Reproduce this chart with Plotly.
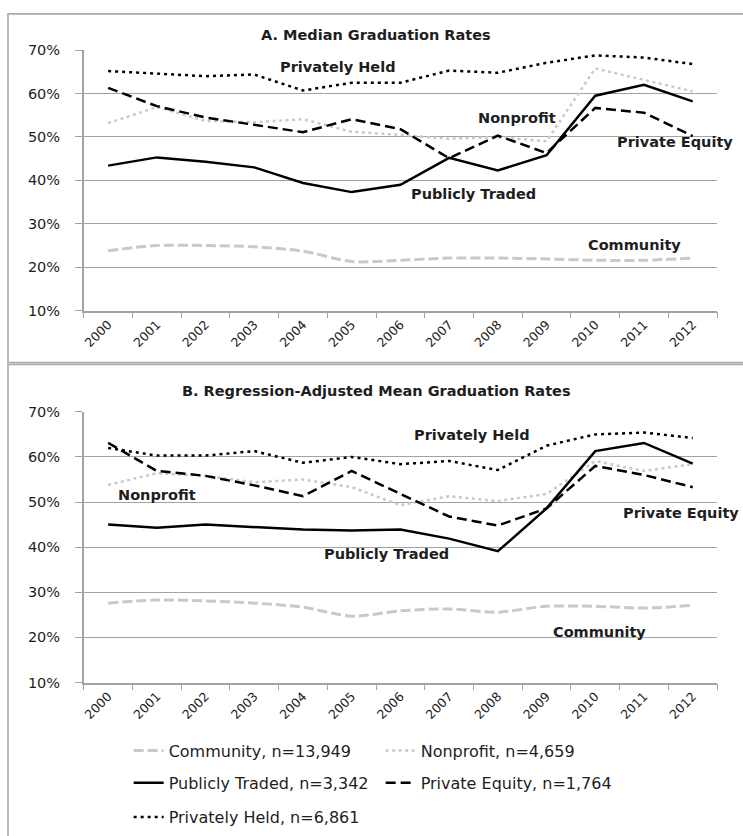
#!/usr/bin/env python3
"""Graduation rates by institution type, 2000-2012: medians and regression-adjusted means."""
from __future__ import annotations

import plotly.graph_objects as go

YEARS = ["2000", "2001", "2002", "2003", "2004", "2005", "2006",
         "2007", "2008", "2009", "2010", "2011", "2012"]

Y_TICKS = [10, 20, 30, 40, 50, 60, 70]
Y_TICK_LABELS = ["10%", "20%", "30%", "40%", "50%", "60%", "70%"]

# Panel A: median graduation rates (%)
MED_COMMUNITY = [23.8, 25.0, 25.0, 24.7, 23.7, 21.3, 21.6, 22.1, 22.1, 21.9, 21.6, 21.6, 22.1]
MED_NONPROFIT = [53.2, 56.9, 53.7, 53.4, 54.1, 51.2, 50.5, 49.6, 50.0, 49.0, 65.8, 63.2, 60.5]
MED_PUBLIC = [43.4, 45.3, 44.3, 43.0, 39.4, 37.3, 39.0, 45.2, 42.3, 45.8, 59.5, 62.0, 58.2]
MED_PRIV_EQUITY = [61.3, 57.1, 54.5, 52.8, 51.1, 54.1, 51.8, 45.1, 50.3, 46.3, 56.7, 55.6, 50.2]
MED_PRIV_HELD = [65.2, 64.6, 64.0, 64.4, 60.7, 62.5, 62.5, 65.3, 64.8, 67.1, 68.8, 68.3, 66.8]

# Panel B: regression-adjusted mean graduation rates (%)
ADJ_COMMUNITY = [27.6, 28.3, 28.1, 27.6, 26.7, 24.7, 25.9, 26.3, 25.6, 26.9, 26.9, 26.5, 27.1]
ADJ_NONPROFIT = [53.8, 56.4, 55.8, 54.4, 55.0, 53.3, 49.3, 51.3, 50.2, 51.8, 59.1, 56.9, 58.4]
ADJ_PUBLIC = [45.0, 44.3, 45.0, 44.5, 43.9, 43.7, 43.9, 41.9, 39.1, 48.6, 61.3, 63.1, 58.5]
ADJ_PRIV_EQUITY = [63.1, 56.9, 55.8, 53.7, 51.3, 56.9, 51.8, 46.8, 44.8, 48.6, 58.0, 56.0, 53.3]
ADJ_PRIV_HELD = [62.0, 60.3, 60.3, 61.3, 58.7, 60.0, 58.4, 59.1, 57.1, 62.5, 65.0, 65.4, 64.2]

LEGEND_NAMES = [
    "Community, n=13,949",
    "Nonprofit, n=4,659",
    "Publicly Traded, n=3,342",
    "Private Equity, n=1,764",
    "Privately Held, n=6,861",
]

W, H = 743, 836
GRID = "#A3A3A3"
FRAME = "#ABABAB"
INK = "#1E1E1E"
LIGHT = "#C9C9C9"
FONT = "DejaVu Sans"


def px_x(x: float) -> float:
    return x / W


def px_y(y: float) -> float:
    return 1 - y / H


STYLES = [
    dict(color=LIGHT, width=3, dash="10px,4px", shape="spline"),
    dict(color=LIGHT, width=2.5, dash="3px,3.5px", shape="linear"),
    dict(color="black", width=2.5, dash="solid", shape="linear"),
    dict(color="black", width=2.5, dash="10px,5px", shape="linear"),
    dict(color="black", width=2.5, dash="3px,4px", shape="linear"),
]
LEGEND_IDS = ["legend", "legend", "legend2", "legend2", "legend3"]


def add_panel(fig, series, xref, yref, show_legend):
    for name, values, style, leg in zip(LEGEND_NAMES, series, STYLES, LEGEND_IDS):
        fig.add_trace(
            go.Scatter(
                x=YEARS,
                y=values,
                name=name,
                mode="lines",
                line=dict(color=style["color"], width=style["width"], dash=style["dash"],
                          shape=style["shape"], smoothing=0.8),
                xaxis=xref,
                yaxis=yref,
                legend=leg,
                showlegend=show_legend,
                hovertemplate="%{x}: %{y:.1f}%<extra>" + name + "</extra>",
            )
        )


def axis_styles(top_px, bottom_px):
    xa = dict(
        domain=[px_x(82), px_x(717)],
        type="category",
        categoryorder="array",
        categoryarray=YEARS,
        range=[-0.5, 12.5],
        tickson="boundaries",
        ticks="outside",
        ticklen=6,
        tickcolor=GRID,
        showline=True,
        linecolor=GRID,
        linewidth=1.5,
        showgrid=False,
        tickangle=-45,
        tickfont=dict(family=FONT, size=12.5, color=INK),
    )
    ya = dict(
        domain=[px_y(bottom_px), px_y(top_px)],
        range=[10, 70],
        tickmode="array",
        tickvals=Y_TICKS,
        ticktext=Y_TICK_LABELS,
        ticks="outside",
        ticklen=7,
        tickcolor=GRID,
        ticklabelstandoff=12,
        showline=True,
        linecolor=GRID,
        linewidth=1.5,
        showgrid=True,
        gridcolor=GRID,
        gridwidth=1.3,
        zeroline=False,
        tickfont=dict(family=FONT, size=14.5, color=INK),
    )
    return xa, ya


def label(text, x, y, size=14.5):
    return dict(
        text=text, x=px_x(x), y=px_y(y), xref="paper", yref="paper",
        xanchor="center", yanchor="middle", showarrow=False,
        font=dict(family=FONT, size=size, color=INK, weight="bold"),
    )


def legend_row(y):
    return dict(
        orientation="h",
        x=px_x(127),
        y=px_y(y),
        xanchor="left",
        yanchor="middle",
        bgcolor="rgba(0,0,0,0)",
        borderwidth=0,
        itemwidth=30,
        entrywidth=207,
        entrywidthmode="pixels",
        font=dict(family=FONT, size=16, color=INK),
        traceorder="normal",
    )


def main() -> None:
    fig = go.Figure()
    add_panel(fig, [MED_COMMUNITY, MED_NONPROFIT, MED_PUBLIC, MED_PRIV_EQUITY, MED_PRIV_HELD],
              "x", "y", True)
    add_panel(fig, [ADJ_COMMUNITY, ADJ_NONPROFIT, ADJ_PUBLIC, ADJ_PRIV_EQUITY, ADJ_PRIV_HELD],
              "x2", "y2", False)

    xa1, ya1 = axis_styles(43, 308.5)
    xa2, ya2 = axis_styles(411.7, 687.7)
    xa1["anchor"], ya1["anchor"] = "y", "x"
    xa2["anchor"], ya2["anchor"] = "y2", "x2"

    annotations = [
        label("A. Median Graduation Rates", 375.5, 28),
        label("Privately Held", 337, 60),
        label("Nonprofit", 516, 112),
        label("Private Equity", 675, 137),
        label("Publicly Traded", 473, 190),
        label("Community", 634.5, 242),
        label("B. Regression-Adjusted Mean Graduation Rates", 376, 390),
        label("Privately Held", 471, 435),
        label("Nonprofit", 155, 496),
        label("Private Equity", 681, 515),
        label("Publicly Traded", 386, 557),
        label("Community", 599, 636),
    ]

    shapes = [
        dict(type="rect", xref="paper", yref="paper",
             x0=px_x(6), x1=px_x(760), y0=px_y(361.5), y1=px_y(6),
             line=dict(color=FRAME, width=1.6), layer="below"),
        dict(type="rect", xref="paper", yref="paper",
             x0=px_x(6), x1=px_x(760), y0=px_y(900), y1=px_y(363.5),
             line=dict(color=FRAME, width=1.6), layer="below"),
    ]

    fig.update_layout(
        width=W,
        height=H,
        autosize=False,
        margin=dict(l=0, r=0, t=0, b=0),
        paper_bgcolor="white",
        plot_bgcolor="white",
        font=dict(family=FONT, color=INK),
        xaxis=xa1,
        yaxis=ya1,
        xaxis2=xa2,
        yaxis2=ya2,
        annotations=annotations,
        shapes=shapes,
        legend=legend_row(757),
        legend2=legend_row(790),
        legend3=legend_row(825),
    )

    # page margin off so the 743x836 figure fills the window exactly
    fig.write_html(
        "out.html",
        config={"displayModeBar": False},
        post_script="document.body.style.margin='0';document.body.style.overflow='hidden';",
    )


if __name__ == "__main__":
    main()
